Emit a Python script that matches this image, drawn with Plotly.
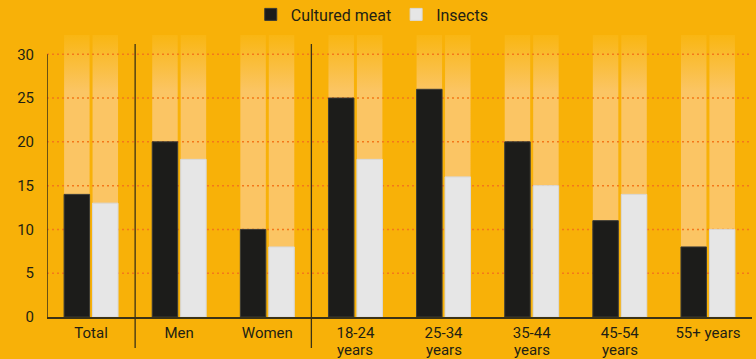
import plotly.graph_objects as go

# ---------------- data ----------------
categories = ["Total", "Men", "Women", "18-24\nyears", "25-34\nyears",
              "35-44\nyears", "45-54\nyears", "55+ years"]
cultured_meat = [14, 20, 10, 25, 26, 20, 11, 8]
insects = [13, 18, 8, 18, 16, 15, 14, 10]
series_names = ["Cultured meat", "Insects"]
y_ticks = [0, 5, 10, 15, 20, 25, 30]
group_breaks = [1, 3]          # a new group starts at these category indices

# ---------------- style ----------------
BG = "#F8B108"
LIGHT = "#FBC564"
TOP_FADE = "#F9B612"
BLACK = "#1c1c1a"
GREY = "#e6e6e6"
GRID = "#F4781A"
INK = "#221f14"
LINE = "#3b3216"
Y_TOP = 32.2
BARGAP = 0.354
BARGROUPGAP = 0.105

n = len(categories)
xs = list(range(n))
first_lines = [c.split("\n")[0] for c in categories]
second_lines = [c.split("\n")[1] if "\n" in c else "" for c in categories]

# geometry of grouped bars (same as plotly's grouping), used for the backdrop columns
slot = (1 - BARGAP) / 2
bar_w = slot * (1 - BARGROUPGAP)
offsets = [-slot / 2, slot / 2]

fig = go.Figure()

# backdrop columns with a soft fade at the top
bx, by = [], []
for i in xs:
    for off in offsets:
        c = i + off
        bx += [c - bar_w / 2, c + bar_w / 2, c + bar_w / 2, c - bar_w / 2, c - bar_w / 2, None]
        by += [0, 0, Y_TOP, Y_TOP, 0, None]
fig.add_trace(go.Scatter(
    x=bx, y=by, mode="lines", fill="toself", line=dict(width=0),
    fillgradient=dict(type="vertical", start=0, stop=Y_TOP,
                      colorscale=[[0, LIGHT], [0.8, LIGHT], [1, TOP_FADE]]),
    showlegend=False, hoverinfo="skip", xaxis="x", yaxis="y"))

# dotted gridlines above the backdrop, below the bars
gx, gy = [], []
for t in y_ticks[1:]:
    gx += [-0.5, n - 0.5, None]
    gy += [t, t, None]
fig.add_trace(go.Scatter(
    x=gx, y=gy, mode="lines", line=dict(color=GRID, width=1.5, dash="2px,3px"),
    showlegend=False, hoverinfo="skip", xaxis="x", yaxis="y"))

# data bars on an overlaid axis so they sit above the gridlines
for name, vals, col in zip(series_names, [cultured_meat, insects], [BLACK, GREY]):
    fig.add_trace(go.Bar(
        x=xs, y=vals, name=name, xaxis="x", yaxis="y2",
        marker=dict(color=col, line=dict(color="#3a3a36" if col == BLACK else "#d8d8d8", width=1)),
    ))

shapes = []
# y axis line only up to 30
shapes.append(dict(type="line", xref="x", yref="y", x0=-0.5, x1=-0.5, y0=0, y1=y_ticks[-1],
                   line=dict(color=LINE, width=1.5)))
for b in group_breaks:
    shapes.append(dict(type="line", xref="x", yref="paper", x0=b - 0.5, x1=b - 0.5,
                       y0=-0.11, y1=0.968, line=dict(color=LINE, width=1.3)))

annotations = []
for i, s in enumerate(second_lines):
    if s:
        annotations.append(dict(x=i, y=-0.118, xref="x", yref="paper", text=s,
                                showarrow=False, yanchor="middle",
                                font=dict(family="Roboto", size=15, color=INK)))

fig.update_layout(
    width=756, height=359,
    margin=dict(l=47, r=4, t=35, b=42, autoexpand=False),
    paper_bgcolor=BG, plot_bgcolor=BG,
    barmode="group", bargap=BARGAP, bargroupgap=BARGROUPGAP,
    font=dict(family="Roboto", size=15, color=INK),
    showlegend=True,
    legend=dict(orientation="h", x=0.289, y=1.133, xanchor="left", yanchor="top",
                yref="paper", font=dict(size=16, color=INK), bgcolor="rgba(0,0,0,0)",
                traceorder="normal"),
    xaxis=dict(range=[-0.5, n - 0.5], tickvals=xs, ticktext=first_lines,
               showgrid=False, zeroline=False, showline=True, linecolor=LINE, linewidth=2,
               ticks="", ticklabelstandoff=1, fixedrange=True),
    yaxis=dict(range=[0, Y_TOP], tickvals=y_ticks, showgrid=False, zeroline=False,
               showline=False, ticks="", ticklabelstandoff=12, fixedrange=True),
    yaxis2=dict(range=[0, Y_TOP], overlaying="y", visible=False, showgrid=False,
                zeroline=False, fixedrange=True),
    shapes=shapes, annotations=annotations,
)

fig.write_html("out.html")
